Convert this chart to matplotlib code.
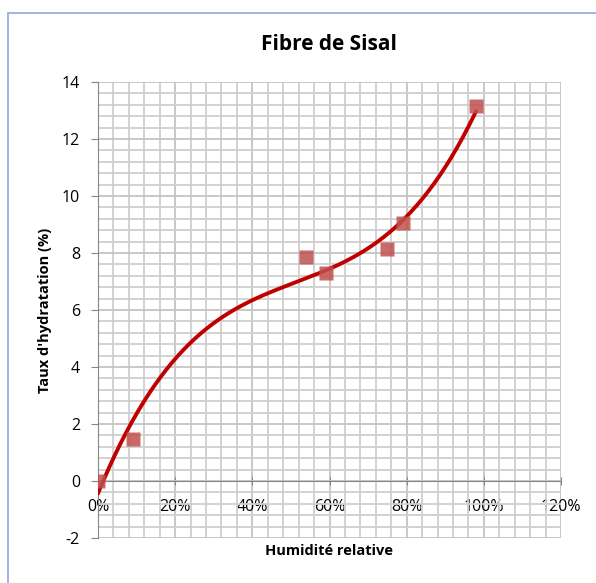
import numpy as np
import matplotlib
matplotlib.use('Agg')
import matplotlib.pyplot as plt
from matplotlib.ticker import MultipleLocator, FuncFormatter
from matplotlib.patches import Rectangle

# Mesures (humidité relative en fraction, taux d'hydratation en %)
hr = [0.0, 0.09, 0.54, 0.59, 0.75, 0.79, 0.98]
taux = [0.0, 1.47, 7.86, 7.30, 8.14, 9.05, 13.16]

title = "Fibre de Sisal"
xlabel = "Humidité relative"
ylabel = "Taux d'hydratation (%)"

plt.rcParams['font.family'] = ['Open Sans', 'DejaVu Sans']
plt.rcParams['axes.unicode_minus'] = False

fig = plt.figure(figsize=(5.96, 5.83), dpi=100)
ax = fig.add_axes([98/596, 1-538/583, (561-98)/596, (538-82)/583])

# courbe de tendance polynomiale (ordre 3), comme Excel
coef = np.polyfit(hr, taux, 3)
xs = np.linspace(min(hr), max(hr), 200)
ax.plot(xs, np.polyval(coef, xs), color='#c00000', lw=2.8, zorder=3, solid_capstyle='round')

ax.plot(hr, taux, 's', color='#c0504d', alpha=0.85, ms=10, mec='none', zorder=4)

ax.set_xlim(0, 1.2)
ax.set_ylim(-2, 14)
ax.xaxis.set_major_locator(MultipleLocator(0.2))
ax.xaxis.set_minor_locator(MultipleLocator(0.04))
ax.yaxis.set_major_locator(MultipleLocator(2))
ax.yaxis.set_minor_locator(MultipleLocator(0.4))
ax.xaxis.set_major_formatter(FuncFormatter(lambda v, p: '{:.0f}%'.format(v*100)))

ax.grid(which='major', color='#c4c4c4', lw=1.3)
ax.grid(which='minor', color='#cfcfcf', lw=1.3)
ax.set_axisbelow(True)

for s in ['top', 'right']:
    ax.spines[s].set_visible(False)
ax.spines['bottom'].set_position(('data', 0))
ax.spines['bottom'].set_color('#868686')
ax.spines['left'].set_color('#868686')
ax.tick_params(axis='x', which='major', direction='inout', length=6, color='#868686',
               labelsize=11.5, pad=10)
ax.tick_params(axis='y', which='major', direction='out', length=5, color='#868686',
               labelsize=11.5, pad=8)
ax.tick_params(which='minor', length=0)

fig.text(329/596, 1-45/583, title, ha='center', va='center', fontsize=15, fontweight='bold')
fig.text(329/596, 1-551/583, xlabel, ha='center', va='center', fontsize=10.5, fontweight='bold')
fig.text(45/596, 1-310/583, ylabel, ha='center', va='center', rotation=90,
         fontsize=10.5, fontweight='bold')

fig.patches.append(Rectangle((8/596, -0.1), 1.1, 1+0.1-13/583, transform=fig.transFigure,
                             fill=False, ec='#8eaadb', lw=1.2))

fig.savefig('out.png', dpi=100)
